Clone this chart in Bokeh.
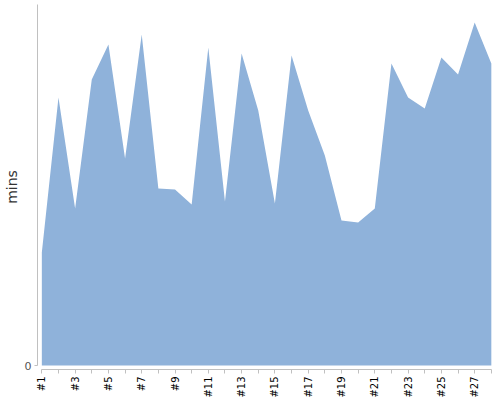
import math
from bokeh.plotting import figure
from bokeh.models import Range1d, FixedTicker
from bokeh.embed import file_html
from bokeh.resources import INLINE

categories = ["#%d" % i for i in range(1, 29)]
minutes = [113, 268, 157, 286, 321, 207, 331, 177, 176, 161, 318, 164, 312, 255,
           162, 310, 255, 210, 145, 143, 157, 302, 268, 257, 308, 291, 343, 302]
tick_labels = [c if i % 2 == 0 else "" for i, c in enumerate(categories)]

xs = list(range(len(categories)))

p = figure(width=493, height=400, output_backend="svg", toolbar_location=None,
           x_range=Range1d(-0.26, 27.07), y_range=Range1d(-4, 361),
           min_border_left=0, min_border_top=4, min_border_right=1, min_border_bottom=0)
p.outline_line_color = None
p.grid.visible = False

p.varea(x=xs, y1=[0] * len(xs), y2=minutes, fill_color="#8FB2DA", fill_alpha=1.0)

xa = p.xaxis[0]
xa.ticker = FixedTicker(ticks=xs)
xa.major_label_overrides = {i: t for i, t in enumerate(tick_labels)}
xa.major_label_orientation = math.pi / 2
xa.bounds = (0, len(xs) - 1)
xa.axis_line_color = "#C0C0C0"
xa.major_tick_line_color = "#C0C0C0"
xa.major_tick_in = 0
xa.major_tick_out = 4
xa.minor_tick_line_color = None
xa.major_label_text_font = "DejaVu Sans"
xa.major_label_text_font_size = "10px"
xa.major_label_text_color = "#000000"
xa.major_label_standoff = 3

ya = p.yaxis[0]
ya.ticker = FixedTicker(ticks=[0])
ya.bounds = (0, 361)
ya.axis_line_color = "#C0C0C0"
ya.major_tick_line_color = "#C0C0C0"
ya.major_tick_in = 0
ya.major_tick_out = 3
ya.minor_tick_line_color = None
ya.major_label_text_font = "DejaVu Sans"
ya.major_label_text_font_size = "11px"
ya.major_label_text_color = "#555555"
ya.major_label_standoff = 3
ya.axis_label = "mins"
ya.axis_label_text_font = "DejaVu Sans"
ya.axis_label_text_font_size = "14px"
ya.axis_label_text_font_style = "normal"
ya.axis_label_text_color = "#333333"
ya.axis_label_standoff = 2

open("out.html", "w").write(file_html(p, INLINE))
